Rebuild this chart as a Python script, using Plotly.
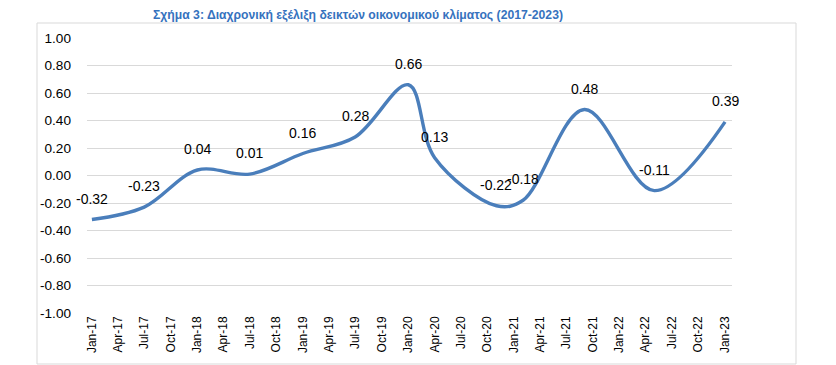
import plotly.graph_objects as go

# ---- data ----
dates = ["2017-01-01", "2017-07-01", "2018-01-01", "2018-07-01", "2019-01-01",
         "2019-07-01", "2020-01-01", "2020-04-01", "2020-11-01", "2021-02-01",
         "2021-09-01", "2022-05-01", "2023-01-01"]
values = [-0.32, -0.23, 0.04, 0.01, 0.16, 0.28, 0.66, 0.13, -0.22, -0.18,
          0.48, -0.11, 0.39]
tick_dates = ["2017-01-01", "2017-04-01", "2017-07-01", "2017-10-01",
              "2018-01-01", "2018-04-01", "2018-07-01", "2018-10-01",
              "2019-01-01", "2019-04-01", "2019-07-01", "2019-10-01",
              "2020-01-01", "2020-04-01", "2020-07-01", "2020-10-01",
              "2021-01-01", "2021-04-01", "2021-07-01", "2021-10-01",
              "2022-01-01", "2022-04-01", "2022-07-01", "2022-10-01",
              "2023-01-01"]
y_ticks = [1.0, 0.8, 0.6, 0.4, 0.2, 0.0, -0.2, -0.4, -0.6, -0.8, -1.0]
y_tick_labels = [f"{v:.2f}" for v in y_ticks]
title = "Σχήμα 3: Διαχρονική εξέλιξη δεικτών οικονομικού κλίματος (2017-2023)"

FONT = "Liberation Sans, Arial, sans-serif"

# page body has an 8px default margin -> offset all pixel positions
OFF = 8
W, H = 836, 365
L = 87 - OFF
T = 38 - OFF
R = W - (732 - OFF)
B = H - (313 - OFF)
pw, ph = W - L - R, H - T - B


def px_x(px):
    return (px - OFF - L) / pw


def px_y(py):
    return (H - B - (py - OFF)) / ph


fig = go.Figure()
fig.add_trace(go.Scatter(
    x=dates, y=values, mode="lines",
    line=dict(color="#4a7ebb", width=3.4, shape="spline", smoothing=1.0),
    hoverinfo="x+y", showlegend=False,
))

annotations = []
for d, v in zip(dates, values):
    annotations.append(dict(
        x=d, y=v, xref="x", yref="y", text=f"{v:.2f}", showarrow=False,
        yshift=21, xanchor="center", yanchor="middle",
        font=dict(family=FONT, size=14, color="#000000"),
    ))

annotations.append(dict(
    x=px_x(358), y=px_y(15), xref="paper", yref="paper", text=f"<b>{title}</b>",
    showarrow=False, xanchor="center", yanchor="middle",
    font=dict(family=FONT, size=12.2, color="#3672BE"),
))

fig.update_layout(
    width=W, height=H,
    margin=dict(l=L, r=R, t=T, b=B, autoexpand=False),
    paper_bgcolor="white", plot_bgcolor="white",
    font=dict(family=FONT, color="#000000"),
    annotations=annotations,
    shapes=[dict(
        type="rect", xref="paper", yref="paper",
        x0=px_x(37), x1=px_x(796),
        y0=px_y(364), y1=px_y(23),
        line=dict(color="#d9d9d9", width=1), fillcolor="rgba(0,0,0,0)", layer="below",
    )],
    xaxis=dict(
        type="date",
        range=["2016-12-15", "2023-01-25"],
        tickvals=tick_dates, tickformat="%b-%y", tickangle=-90,
        tickfont=dict(family=FONT, size=12, color="#000000"),
        showgrid=False, zeroline=False, showline=False, ticks="",
        automargin=False,
    ),
    yaxis=dict(
        range=[-1.0, 1.0],
        tickvals=y_ticks, ticktext=y_tick_labels,
        tickfont=dict(family=FONT, size=13.6, color="#000000"),
        showgrid=True, gridcolor="#d9d9d9", gridwidth=1,
        zeroline=False, showline=False, ticks="",
        ticklabelstandoff=15,
        automargin=False,
    ),
)

fig.write_html("out.html")
